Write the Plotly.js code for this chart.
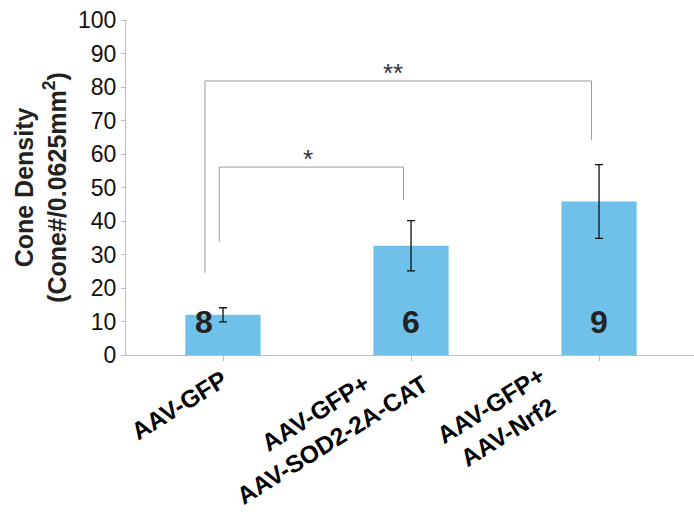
<!DOCTYPE html>
<html><head><meta charset="utf-8">
<script src="https://cdn.plot.ly/plotly-3.0.1.min.js"></script>
<style>body{margin:0;background:#fff}#chart{width:694px;height:521px}</style>
</head><body><div id="chart"></div>
<script>
const categories = ["AAV-GFP", "AAV-GFP+<br>AAV-SOD2-2A-CAT", "AAV-GFP+<br>AAV-Nrf2"];
const meanDensity = [12, 32.6, 45.8];
const errorSize = [2.1, 7.5, 11];
const sampleCounts = ["8", "6", "9"];
const sigLabels = ["*", "**"];

const xIdx = categories.map((c, i) => i);

const trace = {
  type: "bar",
  x: xIdx,
  y: meanDensity,
  width: 0.4,
  marker: {color: "#6fc1ea", line: {width: 0}},
  error_y: {type: "data", array: errorSize, visible: true, color: "#111", thickness: 1.3, width: 4},
  hoverinfo: "skip"
};

const annotations = [];
// x category labels
const labelPos = [[-0.234, -0.152], [0.535, -0.212], [1.473, -0.191]];
categories.forEach((c, i) => {
  annotations.push({
    text: "<b>" + c + "</b>", xref: "x", yref: "paper",
    x: labelPos[i][0], y: labelPos[i][1], xanchor: "center", yanchor: "middle",
    textangle: -32, showarrow: false, align: "center",
    font: {family: "Liberation Sans, Arial, sans-serif", size: 24.5, color: "#000"}
  });
});
// sample counts
const nPos = [-0.1, 1.0, 2.0];
sampleCounts.forEach((n, i) => {
  annotations.push({
    text: "<b>" + n + "</b>", xref: "x", yref: "y", x: nPos[i], y: 10,
    xanchor: "center", yanchor: "middle", showarrow: false,
    font: {family: "Liberation Sans, Arial, sans-serif", size: 32, color: "#222"}
  });
});
// significance stars
annotations.push({text: sigLabels[0], xref: "x", yref: "y", x: 0.45, y: 58.4, xanchor: "center", yanchor: "middle",
  showarrow: false, font: {family: "Liberation Sans, Arial, sans-serif", size: 26, color: "#333"}});
annotations.push({text: sigLabels[1], xref: "x", yref: "y", x: 0.905, y: 84.2, xanchor: "center", yanchor: "middle",
  showarrow: false, font: {family: "Liberation Sans, Arial, sans-serif", size: 26, color: "#333"}});

const bracketLine = {color: "#9a9a9a", width: 1};
const shapes = [
  {type: "path", xref: "x", yref: "y", path: "M -0.02,33.8 L -0.02,56.1 L 0.96,56.1 L 0.96,46.3", line: bracketLine},
  {type: "path", xref: "x", yref: "y", path: "M -0.096,24.5 L -0.096,81.8 L 1.96,81.8 L 1.96,64.2", line: bracketLine}
];

const layout = {
  width: 694, height: 521,
  margin: {l: 126, r: 0, t: 20, b: 166},
  paper_bgcolor: "#fff", plot_bgcolor: "#fff",
  showlegend: false,
  xaxis: {
    range: [-0.516, 2.505], tickmode: "array", tickvals: xIdx, tickson: "boundaries",
    showticklabels: false, ticks: "outside", ticklen: 5, tickcolor: "#bdbdbd",
    showline: true, linecolor: "#bdbdbd", linewidth: 1, showgrid: false, zeroline: false, fixedrange: true
  },
  yaxis: {
    range: [0, 100], dtick: 10, ticks: "outside", ticklen: 4, tickcolor: "#bdbdbd",
    showline: true, linecolor: "#bdbdbd", linewidth: 1, showgrid: false, zeroline: false,
    tickfont: {family: "Liberation Sans, Arial, sans-serif", size: 23, color: "#111"},
    title: {text: "<b>Cone Density<br>(Cone#/0.0625mm<sup>2</sup>)</b>", standoff: 4,
      font: {family: "Liberation Sans, Arial, sans-serif", size: 25, color: "#222"}},
    fixedrange: true
  },
  annotations: annotations,
  shapes: shapes
};

Plotly.newPlot("chart", [trace], layout, {displayModeBar: false, staticPlot: true});
</script></body></html>
